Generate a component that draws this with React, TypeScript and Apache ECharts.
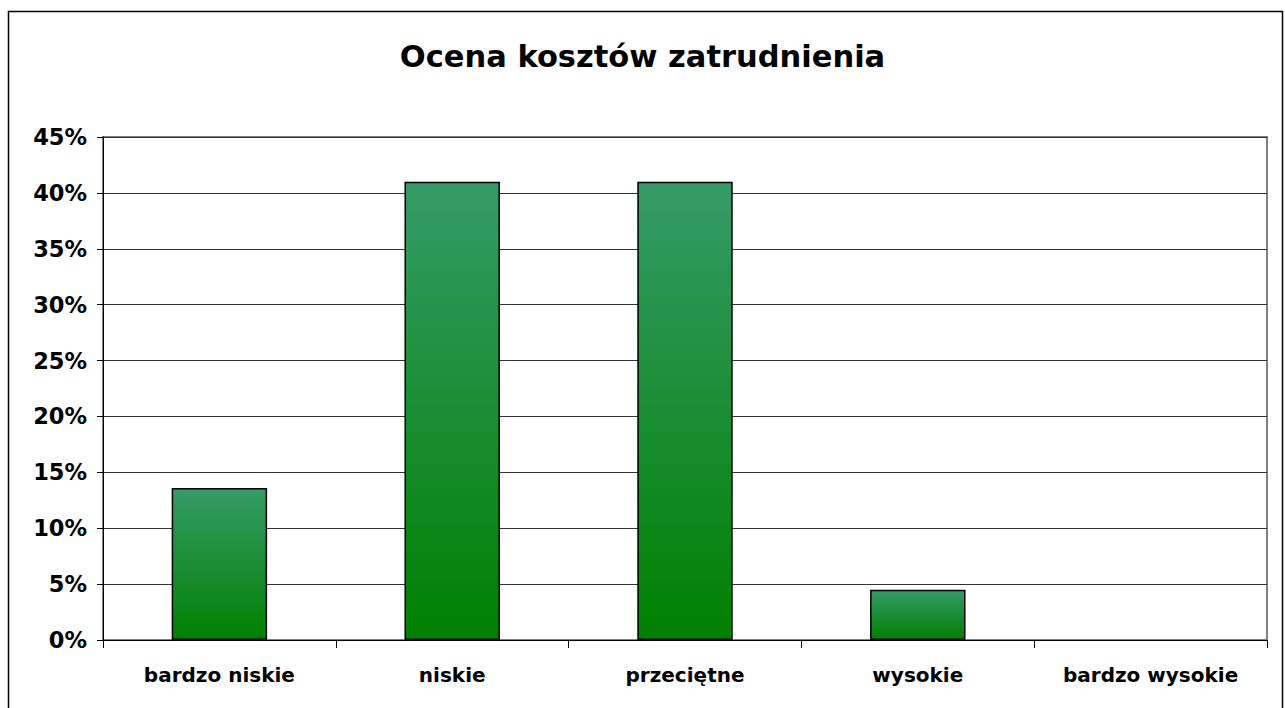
import React, { useEffect, useRef } from "react";
import * as echarts from "echarts";

const title = "Ocena kosztów zatrudnienia";
const categories = ["bardzo niskie", "niskie", "przeciętne", "wysokie", "bardzo wysokie"];
const values = [0.136, 0.41, 0.41, 0.045, 0];
const yMin = 0;
const yMax = 0.45;
const yStep = 0.05;

const FONT = "'DejaVu Sans', Verdana, sans-serif";

export default function App() {
  const ref = useRef<HTMLDivElement>(null);
  useEffect(() => {
    if (!ref.current) return;
    const chart = echarts.init(ref.current, null, { renderer: "svg" });
    chart.setOption({
      animation: false,
      backgroundColor: "#ffffff",
      title: {
        text: title,
        left: "center",
        top: 36,
        textStyle: { fontFamily: FONT, fontWeight: "bold", fontSize: 30.5, color: "#000" },
      },
      graphic: [
        {
          type: "rect",
          shape: { x: 8.5, y: 11.5, width: 1274, height: 720 },
          style: { fill: "none", stroke: "#000", lineWidth: 1.5 },
          silent: true,
        },
      ],
      grid: {
        left: 103,
        right: 18,
        top: 137,
        bottom: 68,
        show: true,
        borderColor: "#808080",
        borderWidth: 2,
        backgroundColor: "transparent",
      },
      xAxis: {
        type: "category",
        data: categories,
        boundaryGap: true,
        axisLine: { lineStyle: { color: "#000", width: 1 } },
        axisTick: { show: true, alignWithLabel: false, length: 8, lineStyle: { color: "#000" } },
        axisLabel: {
          fontFamily: FONT,
          fontWeight: "bold",
          fontSize: 20,
          color: "#000",
          margin: 25,
          interval: 0,
        },
      },
      yAxis: {
        type: "value",
        min: yMin,
        max: yMax,
        interval: yStep,
        axisLine: { show: true, lineStyle: { color: "#000", width: 1 } },
        axisTick: { show: true, length: 6, inside: false, lineStyle: { color: "#000" } },
        splitLine: { lineStyle: { color: "#333", width: 1 } },
        axisLabel: {
          fontFamily: FONT,
          fontWeight: "bold",
          fontSize: 22.5,
          color: "#000",
          margin: 16,
          formatter: (v: number) => `${Math.round(v * 100)}%`,
        },
      },
      series: [
        {
          type: "bar",
          data: values.map((v) => (v === 0 ? { value: v, itemStyle: { borderWidth: 0 } } : v)),
          barWidth: "41%",
          itemStyle: {
            color: new echarts.graphic.LinearGradient(0, 0, 0, 1, [
              { offset: 0, color: "rgb(53,155,104)" },
              { offset: 1, color: "rgb(0,128,0)" },
            ]),
            borderColor: "#000",
            borderWidth: 1.5,
          },
        },
      ],
    });
    return () => chart.dispose();
  }, []);
  return (
    <div
      ref={ref}
      style={{ position: "fixed", left: 0, top: 0, width: 1285, height: 708, background: "#fff" }}
    />
  );
}
